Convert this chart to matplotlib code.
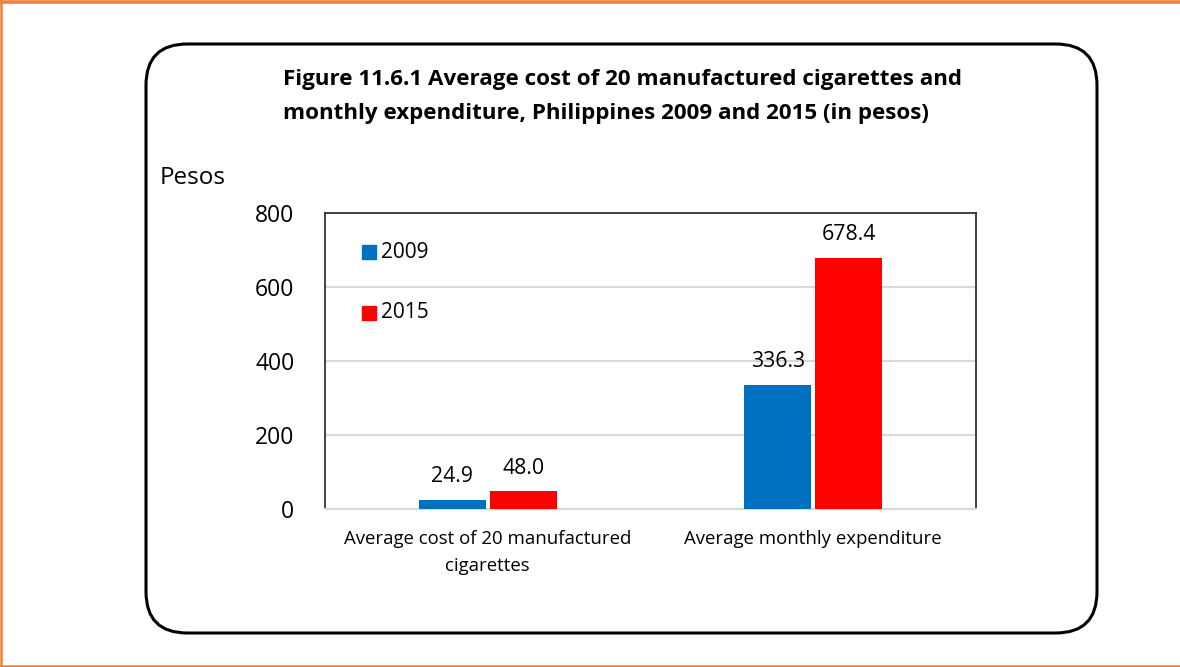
import matplotlib
matplotlib.use("Agg")
import matplotlib.pyplot as plt
from matplotlib.patches import FancyBboxPatch, Rectangle
from matplotlib.lines import Line2D

categories = ["Average cost of 20 manufactured\ncigarettes", "Average monthly expenditure"]
years = ["2009", "2015"]
values_2009 = [24.9, 336.3]
values_2015 = [48.0, 678.4]
yticks = [0, 200, 400, 600, 800]
colors = ["#0070C0", "#FF0000"]

W, H = 1180, 667
fig = plt.figure(figsize=(W / 100, H / 100), dpi=100)
fig.patch.set_facecolor("white")
font = "Open Sans"

def fx(px):
    return px / W

def fy(py):
    return 1 - py / H

# orange page border
for (x0, y0, x1, y1) in [(0, 1.5, W, 1.5), (1.2, 0, 1.2, H), (0, 665.5, W, 665.5)]:
    fig.add_artist(Line2D([fx(x0), fx(x1)], [fy(y0), fy(y1)], color="#F0813A",
                          lw=2.6 if y0 == 1.5 else 1.8, transform=fig.transFigure))

# rounded frame around the chart
box = FancyBboxPatch((fx(146), fy(633)), fx(1097) - fx(146), fy(44) - fy(633),
                     boxstyle="round,pad=0,rounding_size=0.035",
                     transform=fig.transFigure, fill=False, ec="black", lw=2.2,
                     mutation_aspect=W / H)
fig.add_artist(box)

# plot area
ax = fig.add_axes([fx(325), fy(509), fx(976) - fx(325), fy(213) - fy(509)])
ax.set_ylim(0, 800)
ax.set_xlim(-0.5, 1.5)
ax.set_yticks(yticks)
ax.set_yticklabels([str(t) for t in yticks], fontsize=16.5, family=font)
ax.tick_params(axis="y", length=0, pad=22)
ax.tick_params(axis="x", length=0, pad=15)
ax.set_xticks([0, 1])
ax.set_xticklabels(categories, fontsize=13.4, family=font, linespacing=1.65)
ax.grid(axis="y", color="#D9D9D9", lw=1.5)
ax.set_axisbelow(True)
for side in ["left", "top", "right"]:
    ax.spines[side].set_color("#333333")
    ax.spines[side].set_linewidth(1.3)
ax.spines["bottom"].set_color("#D9D9D9")
ax.spines["bottom"].set_linewidth(1.5)

bw = 0.206
gap = 0.006
xs = [0, 1]
b1 = ax.bar([x - bw / 2 - gap for x in xs], values_2009, width=bw, color=colors[0], zorder=3)
b2 = ax.bar([x + bw / 2 + gap for x in xs], values_2015, width=bw, color=colors[1], zorder=3)
for bars, vals in [(b1, values_2009), (b2, values_2015)]:
    for rect, v in zip(bars, vals):
        ax.annotate(f"{v:.1f}", (rect.get_x() + rect.get_width() / 2, v),
                    xytext=(0, 9), textcoords="offset points", ha="center",
                    va="bottom", fontsize=15.3, family=font)

# legend
for i, (yr, c) in enumerate(zip(years, colors)):
    cy = 252 + i * 61
    fig.add_artist(Rectangle((fx(362), fy(cy + 7)), fx(14), fy(cy - 7) - fy(cy + 7),
                             transform=fig.transFigure, color=c))
    fig.text(fx(381), fy(cy), yr, fontsize=15, family=font, va="center", ha="left")

fig.text(fx(283), fy(80),
         "Figure 11.6.1 Average cost of 20 manufactured cigarettes and",
         fontsize=16.1, fontweight="bold", family=font, va="center", ha="left")
fig.text(fx(283), fy(114),
         "monthly expenditure, Philippines 2009 and 2015 (in pesos)",
         fontsize=16.1, fontweight="bold", family=font, va="center", ha="left")
fig.text(fx(160), fy(178), "Pesos", fontsize=17.5, family=font, va="center", ha="left")

fig.savefig("out.png", dpi=100, facecolor="white")
